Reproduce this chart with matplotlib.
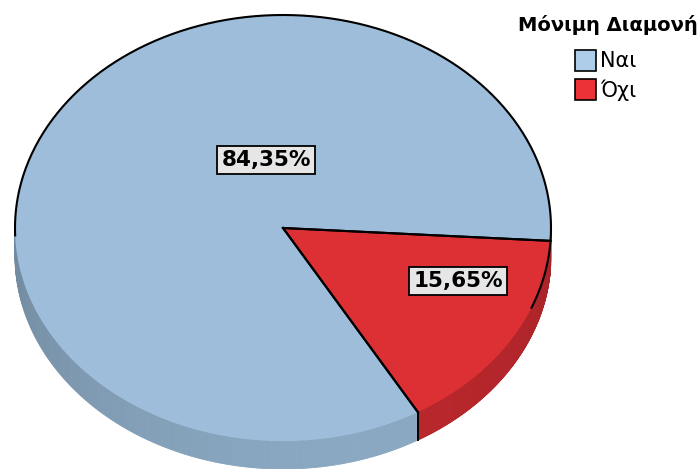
import numpy as np
import matplotlib
matplotlib.use("Agg")
import matplotlib.pyplot as plt
from matplotlib.patches import Polygon, Rectangle

# data
categories = ["Ναι", "Όχι"]
values = [84.35, 15.65]
labels = ["84,35%", "15,65%"]
legend_title = "Μόνιμη Διαμονή"

top_colors = ["#9dbdda", "#dc3035"]
side_colors = ["#8aa8c2", "#b8272c"]
legend_colors = ["#aecde9", "#ec3237"]
label_pos = [(266, 160), (458, 281)]

# pie geometry in pixel space
cx, cy = 283, 228
rx, ry = 268, 213
depth = 28
start = 300.2  # degrees, slices go clockwise


def pt(t, dz=0):
    r = np.radians(t)
    return cx + rx * np.cos(r), cy - ry * np.sin(r) + dz


fig = plt.figure(figsize=(6.99, 4.69), dpi=100)
ax = fig.add_axes([0, 0, 1, 1])
ax.set_xlim(0, 699)
ax.set_ylim(469, 0)
ax.axis("off")

fracs = np.array(values) / sum(values)
angles = []
a = start
for f in fracs:
    angles.append((a, a - f * 360))
    a -= f * 360

# side walls (front half only: angle between 180 and 360)
for (a0, a1), sc in zip(angles, side_colors):
    ts = np.linspace(a1, a0, 400)
    for i in range(len(ts) - 1):
        t0, t1 = ts[i], ts[i + 1]
        tm = (t0 + t1) / 2 % 360
        if not (180 <= tm <= 360):
            continue
        shade = 0.86 + 0.14 * np.cos(np.radians(tm - 290))
        rgb = np.clip(np.array(matplotlib.colors.to_rgb(sc)) * shade, 0, 1)
        p = [pt(t0), pt(t1), pt(t1, depth), pt(t0, depth)]
        ax.add_patch(Polygon(p, closed=True, facecolor=rgb, edgecolor=rgb, lw=0.6))

# boundary line on the front side between slices
for a0, a1 in angles:
    for t in (a0, a1):
        if np.sin(np.radians(t)) < -0.4:
            x0, y0 = pt(t)
            ax.plot([x0, x0], [y0, y0 + depth], color="black", lw=1.3)

# top faces
for (a0, a1), tc in zip(angles, top_colors):
    ts = np.linspace(a0, a1, 300)
    p = [(cx, cy)] + [pt(t) for t in ts]
    ax.add_patch(Polygon(p, closed=True, facecolor=tc, edgecolor="none"))
    # radial edges
    for t in (a0, a1):
        x, y = pt(t)
        ax.plot([cx, x], [cy, y], color="black", lw=1.5)

# outline on the back part of the rim
ts = np.linspace(-22, 182, 300)
xy = np.array([pt(t) for t in ts])
ax.plot(xy[:, 0], xy[:, 1], color="black", lw=1.5)

# percentage labels
for (x, y), lab in zip(label_pos, labels):
    ax.text(x, y, lab, ha="center", va="center", fontsize=15.5, fontweight="bold",
            color="black",
            bbox=dict(boxstyle="square,pad=0.2", facecolor="#e6e6e6", edgecolor="black", lw=1.3))

# legend
ax.text(608, 25, legend_title, ha="center", va="center", fontsize=14, fontweight="bold")
for i, (name, col) in enumerate(zip(categories, legend_colors)):
    y = 61 + i * 29
    ax.add_patch(Rectangle((575, y - 10.5), 21, 21, facecolor=col, edgecolor="black", lw=1.2))
    ax.text(600, y, name, ha="left", va="center", fontsize=15)

fig.savefig("out.png", dpi=100)
